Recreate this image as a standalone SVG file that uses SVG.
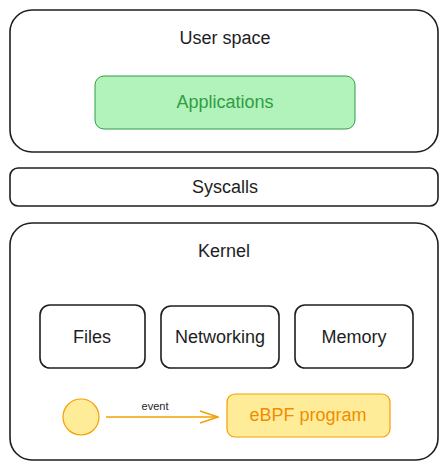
<svg xmlns="http://www.w3.org/2000/svg" width="448" height="470" viewBox="0 0 448 470">
<defs>
<style>
.box{fill:#ffffff;stroke:#1e1e1e;stroke-width:1.6}
.t{font-family:"Liberation Sans",Arial,sans-serif;font-size:18px;fill:#1e1e1e;text-anchor:middle;dominant-baseline:central}
.green{fill:#b2f2bb;stroke:#2f9e44;stroke-width:1}
.yellow{fill:#ffec99;stroke:#f59f00;stroke-width:1.2}
</style>
<marker id="arr" viewBox="0 0 20 14" refX="19" refY="7" markerWidth="20" markerHeight="14" markerUnits="userSpaceOnUse" orient="auto">
<path d="M1,1 L19,7 L1,13" fill="none" stroke="#f59f00" stroke-width="1.5"/>
</marker>
</defs>
<rect width="448" height="470" fill="#ffffff"/>
<g id="user-space">
<rect class="box" x="10" y="10" width="428" height="142" rx="22"/>
<text class="t" x="225" y="38">User space</text>
</g>
<g id="applications">
<rect class="green" x="95" y="76" width="260" height="53" rx="9"/>
<text class="t" x="225" y="102" style="fill:#2f9e44">Applications</text>
</g>
<g id="syscalls">
<rect class="box" x="10" y="168" width="428" height="38" rx="8"/>
<text class="t" x="225" y="187">Syscalls</text>
</g>
<g id="kernel">
<rect class="box" x="10" y="223" width="428" height="237" rx="22"/>
<text class="t" x="224" y="251">Kernel</text>
</g>
<g id="files">
<rect class="box" x="40" y="305" width="105" height="63" rx="10"/>
<text class="t" x="92" y="337">Files</text>
</g>
<g id="networking">
<rect class="box" x="161" y="306" width="118" height="62" rx="10"/>
<text class="t" x="220" y="337">Networking</text>
</g>
<g id="memory">
<rect class="box" x="295" y="305" width="118" height="63" rx="10"/>
<text class="t" x="354" y="337">Memory</text>
</g>
<g id="event-source">
<circle class="yellow" cx="81" cy="417" r="18"/>
</g>
<g id="ebpf-program">
<rect class="yellow" x="227" y="394" width="163" height="43" rx="8"/>
<text class="t" x="308" y="415" style="fill:#f08c00">eBPF program</text>
</g>
<g id="connectors">
<line x1="106" y1="417" x2="218" y2="417" stroke="#f59f00" stroke-width="1.5" marker-end="url(#arr)"/>
<text x="155" y="410" style="font-family:'Liberation Sans',Arial,sans-serif;font-size:11px;fill:#1e1e1e;text-anchor:middle">event</text>
</g>
</svg>
